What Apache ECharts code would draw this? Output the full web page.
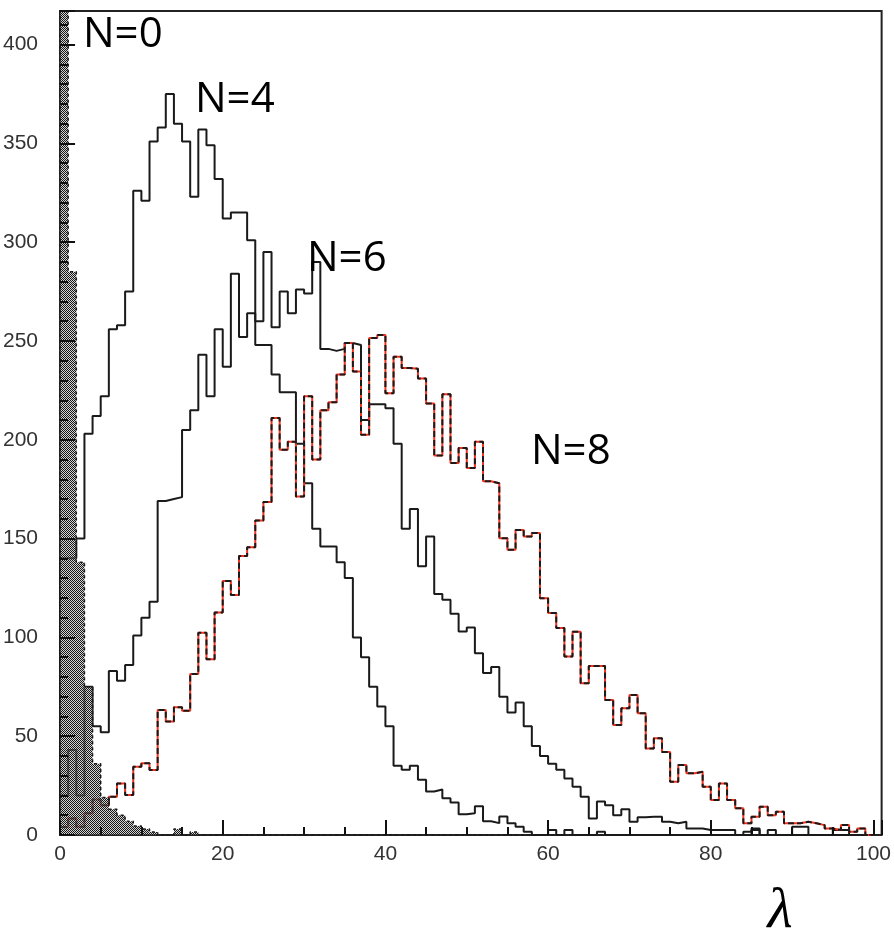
<!DOCTYPE html>
<html>
<head>
<meta charset="utf-8">
<script src="https://cdn.jsdelivr.net/npm/echarts@6/dist/echarts.min.js"></script>
<style>
  html, body { margin: 0; padding: 0; background: #fff; }
  #chart { width: 894px; height: 938px; }
</style>
</head>
<body>
<div id="chart"></div>
<script>
// Histogram binning: 100 bins of width 1 starting at lambda = 0
const binStart = 0;
const binWidth = 1;

const xTickLabels = [0, 20, 40, 60, 80, 100];
const yTickLabels = [0, 50, 100, 150, 200, 250, 300, 350, 400];

// Counts per bin for each photon multiplicity N
const countsN0 = [
  600, 285, 138, 75, 36, 19, 13, 10, 7, 4.5,
  3, 1.5, 0, 0, 3, 0, 1.5, 0, 0, 0,
  0, 0, 0, 0, 0, 0, 0, 0, 0, 0,
  0, 0, 0, 0, 0, 0, 0, 0, 0, 0,
  0, 0, 0, 0, 0, 0, 0, 0, 0, 0,
  0, 0, 0, 0, 0, 0, 0, 0, 0, 0,
  0, 0, 0, 0, 0, 0, 0, 0, 0, 0,
  0, 0, 0, 0, 0, 0, 0, 0, 0, 0,
  0, 0, 0, 0, 0, 0, 0, 0, 0, 0,
  0, 0, 0, 0, 0, 0, 0, 0, 0, 0
];

const countsN4 = [
  140, 140, 150, 203, 212, 222, 256, 258, 275, 326,
  321, 351, 358, 375, 360, 351, 323, 357, 349, 332,
  312, 315, 315, 301, 248, 248, 233, 224, 224, 198,
  178, 155, 146, 146, 138, 130, 100, 90, 75, 65,
  55, 35, 33, 35, 28, 22, 23, 18.6, 16.5, 10.5,
  11, 14.5, 7, 6, 9.3, 5.9, 4.2, 1.7, 0, 0,
  2.5, 0, 2.5, 0, 0, 0, 1.7, 0, 0, 0,
  0, 0, 0, 0, 0, 0, 0, 0, 0, 0,
  0, 0, 0, 0, 0, 2.5, 0, 0, 0, 0,
  0, 0, 0, 0, 0, 0, 0, 0, 0, 0
];

const countsN6 = [
  20, 43, 20, 75, 55, 52, 83, 78, 86, 101,
  110, 118, 169, 170, 171, 205, 215, 243, 222, 256,
  237, 284, 252, 264, 260, 295, 257, 275, 264, 276,
  274, 290, 246, 245, 246, 249, 248, 210, 218, 218,
  216, 198, 155, 165, 136, 151, 122, 119, 112, 103,
  105, 92, 82, 85, 70, 62, 67, 55, 45, 40,
  36, 33, 28.6, 24.4, 19.4, 8.4, 17, 15, 10, 13,
  6.7, 9, 9.2, 9.2, 6.7, 5.9, 6.7, 3.3, 3.3, 2.5,
  2.5, 2.5, 2.5, 0, 1.7, 3.3, 0, 2.5, 0, 0,
  4.2, 4.2, 0, 0, 0, 2.5, 2.5, 0, 0, 0
];

const countsN8 = [
  4, 8.4, 4.2, 11, 18, 15, 19.4, 26, 20.3, 34.6,
  36.3, 32.9, 63.3, 57.4, 64.6, 62.9, 81.5, 102.4, 88.9, 112.6,
  128.6, 121.5, 141.2, 145.6, 159.1, 168.5, 211, 195, 199, 171.3,
  222, 190, 215, 219, 233, 249, 234.6, 202.5, 251.5, 253,
  223.6, 242, 236.3, 236, 231, 218.4, 192, 223, 188.2, 195.8,
  185.7, 199, 179, 178, 150.2, 144.3, 154.4, 151, 152.8, 119.8,
  112.3, 104.7, 90.3, 102.9, 76.8, 85.5, 85.5, 68.3, 55.7, 64.1,
  70.8, 61.6, 43.8, 48.9, 42, 26.9, 35.4, 31.2, 32, 24.4,
  17.7, 26, 17.7, 13.5, 5.9, 9.2, 14.3, 10, 11.8, 5.9,
  5.9, 6.7, 5.9, 5, 3.3, 2.5, 5, 1.7, 3.3, 0
];

// Turn bin counts into a staircase outline (used with step: 'end')
function histSteps(values) {
  const pts = [[binStart, 0]];
  values.forEach((v, i) => pts.push([binStart + i * binWidth, v]));
  const xEnd = binStart + values.length * binWidth;
  pts.push([xEnd, values[values.length - 1]]);
  pts.push([xEnd, 0]);
  return pts;
}

// Dithered grey fill for the N=0 histogram (half-transparent gaps let lines show)
function checkerPattern() {
  const c = document.createElement('canvas');
  c.width = 2; c.height = 2;
  const g = c.getContext('2d');
  g.fillStyle = '#161616';
  g.fillRect(0, 0, 1, 1);
  g.fillRect(1, 1, 1, 1);
  g.fillStyle = 'rgba(175,175,175,0.55)';
  g.fillRect(1, 0, 1, 1);
  g.fillRect(0, 1, 1, 1);
  return c;
}

const X_MIN = 0, X_MAX = 101;
const Y_MIN = 0, Y_MAX = 417;
const lineColor = '#1a1a1a';
const labelFont = { fontFamily: 'Liberation Sans', fontSize: 21, color: '#333' };

const chart = echarts.init(document.getElementById('chart'), null, { renderer: 'canvas' });

const option = {
  animation: false,
  backgroundColor: '#fff',
  grid: {
    left: 60, right: 11, top: 11, bottom: 103,
    show: true, borderColor: '#222', borderWidth: 2
  },
  xAxis: [
    {
      type: 'value', min: X_MIN, max: X_MAX, interval: 20, position: 'bottom', z: 5,
      axisLine: { show: false },
      axisTick: { inside: true, length: 15, lineStyle: { color: '#111', width: 2 } },
      axisLabel: Object.assign({
        margin: 9,
        formatter: v => (xTickLabels.includes(v) ? String(v) : '')
      }, labelFont),
      splitLine: { show: false }
    },
    {
      type: 'value', min: X_MIN, max: X_MAX, interval: 5, position: 'bottom', z: 5,
      axisLine: { show: false },
      axisTick: { inside: true, length: 8, lineStyle: { color: '#111', width: 2 } },
      axisLabel: { show: false },
      splitLine: { show: false }
    }
  ],
  yAxis: [
    {
      type: 'value', min: Y_MIN, max: Y_MAX, interval: 50, position: 'left', z: 5,
      axisLine: { show: false },
      axisTick: { inside: true, length: 15, lineStyle: { color: '#111', width: 2 } },
      axisLabel: Object.assign({
        margin: 22,
        formatter: v => (yTickLabels.includes(v) ? String(v) : '')
      }, labelFont),
      splitLine: { show: false }
    },
    {
      type: 'value', min: Y_MIN, max: Y_MAX, interval: 10, position: 'left', z: 5,
      axisLine: { show: false },
      axisTick: { inside: true, length: 8, lineStyle: { color: '#111', width: 2 } },
      axisLabel: { show: false },
      splitLine: { show: false }
    }
  ],
  series: [
    {
      name: 'N=4', type: 'line', step: 'end', data: histSteps(countsN4),
      symbol: 'none', z: 2,
      lineStyle: { color: lineColor, width: 2 }
    },
    {
      name: 'N=6', type: 'line', step: 'end', data: histSteps(countsN6),
      symbol: 'none', z: 2,
      lineStyle: { color: lineColor, width: 2 }
    },
    {
      name: 'N=8', type: 'line', step: 'end', data: histSteps(countsN8),
      symbol: 'none', z: 2,
      lineStyle: { color: '#f2321e', width: 2 }
    },
    {
      name: 'N=8 dash', type: 'line', step: 'end', data: histSteps(countsN8),
      symbol: 'none', z: 3,
      lineStyle: { color: lineColor, width: 2, type: [6, 3] }
    },
    {
      name: 'N=0', type: 'line', step: 'end', data: histSteps(countsN0),
      symbol: 'none', z: 4,
      lineStyle: { color: lineColor, width: 1.5, type: [3, 3] },
      areaStyle: { color: { image: checkerPattern(), repeat: 'repeat' }, opacity: 1 }
    }
  ],
  graphic: [
    { type: 'text', x: 83, y: 35, z: 10, style: { text: 'N=0', fontFamily: 'Open Sans', fontSize: 42, fill: '#000', verticalAlign: 'middle' } },
    { type: 'text', x: 195, y: 100, z: 10, style: { text: 'N=4', fontFamily: 'Open Sans', fontSize: 42, fill: '#000', verticalAlign: 'middle' } },
    { type: 'text', x: 307, y: 259, z: 10, style: { text: 'N=6', fontFamily: 'Open Sans', fontSize: 42, fill: '#000', verticalAlign: 'middle' } },
    { type: 'text', x: 531, y: 452, z: 10, style: { text: 'N=8', fontFamily: 'Open Sans', fontSize: 42, fill: '#000', verticalAlign: 'middle' } },
    { type: 'text', x: 780, y: 912, z: 10, style: { text: 'λ', fontFamily: 'Liberation Serif', fontStyle: 'italic', fontSize: 58, fill: '#000', align: 'center', verticalAlign: 'middle' } }
  ]
};

chart.setOption(option);
</script>
</body>
</html>
